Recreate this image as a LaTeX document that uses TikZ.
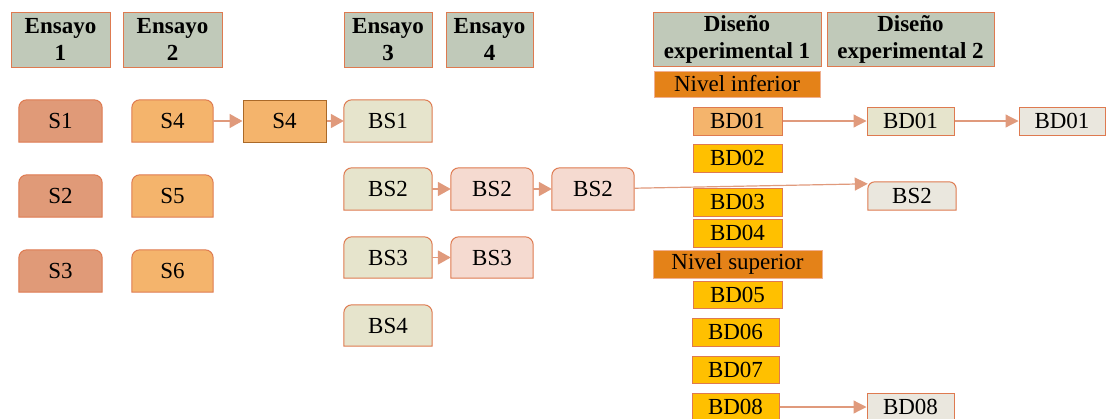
\documentclass[tikz,border=0pt]{standalone}
\usepackage{fontspec}
\setmainfont{Liberation Serif}
\newfontfamily\labelfont{Liberation Serif}
\usetikzlibrary{arrows.meta,backgrounds,calc}

\definecolor{hdrfill}{RGB}{192,201,185}
\definecolor{edge}{RGB}{222,122,80}
\definecolor{sred}{RGB}{224,154,120}
\definecolor{sorange}{RGB}{244,180,108}
\definecolor{brownedge}{RGB}{170,105,40}
\definecolor{bsfill}{RGB}{230,228,204}
\definecolor{pinkfill}{RGB}{245,218,208}
\definecolor{nivel}{RGB}{228,130,24}
\definecolor{niveledge}{RGB}{240,176,144}
\definecolor{gold}{RGB}{255,192,0}
\definecolor{greyfill}{RGB}{234,231,222}
\definecolor{arrowc}{RGB}{224,154,124}

\tikzset{
  base/.style={inner sep=0pt, font=\labelfont\fontsize{23}{27}\selectfont},
  header/.style={base, draw=edge, line width=1pt, fill=hdrfill, align=center,
                 font=\labelfont\fontsize{23}{27}\selectfont\bfseries},
  tab/.style={base},
  plainbox/.style={base, draw=edge, line width=1pt},
  levelbox/.style={base, draw=niveledge, line width=1pt, fill=nivel},
  tabshape/.style={draw=edge, line width=1pt},
  link/.style={draw=arrowc, line width=1.8pt, -{Triangle[length=13pt,width=14pt]}},
  longlink/.style={draw=arrowc, line width=1.2pt, -{Triangle[length=13pt,width=13pt]}},
}

\begin{document}
\begin{tikzpicture}[x=1pt,y=-1pt]
\useasboundingbox (0,0) rectangle (1106,418);

% column headings
\node[header, minimum width=99pt, minimum height=55pt] (h1) at (60.5,39.5) {Ensayo\\1};
\node[header, minimum width=99pt, minimum height=55pt] (h2) at (172.5,39.5) {Ensayo\\2};
\node[header, minimum width=88pt, minimum height=55pt] (h3) at (388,39.5) {Ensayo\\3};
\node[header, minimum width=87pt, minimum height=55pt] (h4) at (489.5,39.5) {Ensayo\\4};
\node[header, minimum width=168pt, minimum height=54pt] (h5) at (737,39) {Diseño\\experimental 1};
\node[header, minimum width=167pt, minimum height=54pt] (h6) at (910.5,39) {Diseño\\experimental 2};

% Ensayo 1 and 2
\node[tab, minimum width=83pt, minimum height=42pt] (s1) at (60.5,121) {S1};
\node[tab, minimum width=83pt, minimum height=42pt] (s2) at (60.5,196) {S2};
\node[tab, minimum width=83pt, minimum height=42pt] (s3) at (60.5,271) {S3};
\node[tab, minimum width=81pt, minimum height=42pt] (s4) at (172.5,121) {S4};
\node[tab, minimum width=81pt, minimum height=42pt] (s5) at (172.5,196) {S5};
\node[tab, minimum width=81pt, minimum height=42pt] (s6) at (172.5,271) {S6};
\node[base, draw=brownedge, line width=1pt, fill=sorange, minimum width=83pt, minimum height=42pt] (s4m) at (284.5,121) {S4};

% Ensayo 3 and 4
\node[tab, minimum width=88pt, minimum height=42pt] (bs1) at (388,121) {BS1};
\node[tab, minimum width=88pt, minimum height=42pt] (bs2) at (388,189) {BS2};
\node[tab, minimum width=88pt, minimum height=41pt] (bs3) at (388,257.5) {BS3};
\node[tab, minimum width=88pt, minimum height=41pt] (bs4) at (388,325.5) {BS4};
\node[tab, minimum width=82pt, minimum height=42pt] (bs2m) at (492,189) {BS2};
\node[tab, minimum width=82pt, minimum height=42pt] (bs2r) at (593,189) {BS2};
\node[tab, minimum width=82pt, minimum height=41pt] (bs3m) at (492,257.5) {BS3};

% experimental design 1
\node[levelbox, minimum width=166pt, minimum height=26pt] (lo) at (737,84) {Nivel inferior};
\node[plainbox, fill=sorange, minimum width=89pt, minimum height=28pt] (bd1) at (737.5,121) {BD01};
\node[plainbox, fill=gold, minimum width=89pt, minimum height=28pt] (bd2) at (737.5,158) {BD02};
\node[plainbox, fill=gold, minimum width=89pt, minimum height=28pt] (bd3) at (737.5,202) {BD03};
\node[plainbox, fill=gold, minimum width=89pt, minimum height=28pt] (bd4) at (737.5,233) {BD04};
\node[levelbox, minimum width=169pt, minimum height=28pt] (hi) at (737.5,264) {Nivel superior};
\node[plainbox, fill=gold, minimum width=89pt, minimum height=27pt] (bd5) at (737.5,294.5) {BD05};
\node[plainbox, fill=gold, minimum width=87pt, minimum height=28pt] (bd6) at (735.5,332) {BD06};
\node[plainbox, fill=gold, minimum width=87pt, minimum height=27pt] (bd7) at (735.5,369.5) {BD07};
\node[plainbox, fill=gold, minimum width=87pt, minimum height=28pt] (bd8) at (735.5,407) {BD08};

% experimental design 2
\node[plainbox, fill=bsfill, minimum width=87pt, minimum height=28pt] (bd1b) at (910.5,121) {BD01};
\node[plainbox, fill=greyfill, minimum width=86pt, minimum height=28pt] (bd1c) at (1062,121) {BD01};
\node[tab, minimum width=88pt, minimum height=28pt] (bsfin) at (912,196) {BS2};
\node[plainbox, fill=greyfill, minimum width=87pt, minimum height=28pt] (bd8b) at (910.5,407) {BD08};

% tab-shaped outlines with rounded top corners
\begin{scope}[on background layer]
\foreach \n/\c/\r in {s1/sred/8pt, s2/sred/8pt, s3/sred/8pt,
                      s4/sorange/8pt, s5/sorange/8pt, s6/sorange/8pt,
                      bs1/bsfill/8pt, bs2/bsfill/8pt, bs3/bsfill/8pt, bs4/bsfill/8pt,
                      bs2m/pinkfill/8pt, bs2r/pinkfill/8pt, bs3m/pinkfill/8pt,
                      bsfin/greyfill/7pt}
  \path[tabshape, fill=\c] (\n.south west) -- ([yshift=-\r]\n.north west)
    arc[start angle=180, end angle=90, radius=\r] -- ([xshift=-\r]\n.north east)
    arc[start angle=90, end angle=0, radius=\r] -- (\n.south east) -- cycle;
\end{scope}

% connectors
\draw[link] (s4) -- (s4m);
\draw[link] (s4m) -- (bs1);
\draw[link] (bs2) -- (bs2m);
\draw[link] (bs2m) -- (bs2r);
\draw[link] (bs3) -- (bs3m);
\coordinate (bsin) at ($(bsfin.north west)+(0,2)$);
\draw[longlink] (bs2r) -- (bsin);
\draw[longlink] (bd1) -- (bd1b);
\draw[longlink] (bd1b) -- (bd1c);
\draw[longlink] (bd8) -- (bd8b);
\end{tikzpicture}
\end{document}
